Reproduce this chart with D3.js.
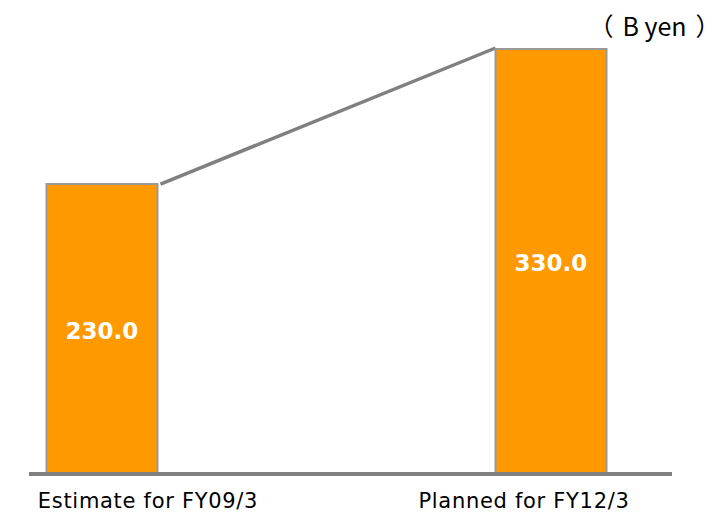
<!DOCTYPE html>
<html>
<head>
<meta charset="utf-8">
<script src="https://d3js.org/d3.v7.min.js"></script>
<style>
  body { margin: 0; background: #fff; }
</style>
</head>
<body>
<svg id="chart" width="727" height="518"></svg>
<script>
var categories = ["Estimate for FY09/3", "Planned for FY12/3"];
var values = [230.0, 330.0];
var unitParts = ["（", "B yen", "）"];

var svg = d3.select("#chart");

var x = d3.scalePoint().domain(categories).range([102, 551]);
var xLabel = d3.scalePoint().domain(categories).range([148, 524]);
var xUnit = d3.scalePoint().domain(unitParts).range([601, 708]);
var y = d3.scaleLinear().domain([16, 330]).range([473, 49]);
var barW = 111;

// connecting line from top-right of first bar to top-left of second
svg.append("line")
    .attr("x1", x(categories[0]) + barW / 2 + 3)
    .attr("y1", y(values[0]))
    .attr("x2", x(categories[1]) - barW / 2)
    .attr("y2", y(values[1]) - 1)
    .attr("stroke", "#808080")
    .attr("stroke-width", 3.5);

svg.selectAll("rect.bar")
    .data(values)
    .enter().append("rect")
    .attr("class", "bar")
    .attr("x", function(d, i) { return x(categories[i]) - barW / 2; })
    .attr("y", function(d) { return y(d); })
    .attr("width", barW)
    .attr("height", function(d) { return y(16) - y(d); })
    .attr("fill", "#FF9900")
    .attr("stroke", "#999999")
    .attr("stroke-width", 2);

svg.selectAll("text.val")
    .data(values)
    .enter().append("text")
    .attr("class", "val")
    .attr("x", function(d, i) { return x(categories[i]); })
    .attr("y", function(d) { return (y(d) + y(16)) / 2 + 10; })
    .attr("text-anchor", "middle")
    .style("font", "bold 23px 'DejaVu Sans', Verdana, sans-serif")
    .attr("fill", "#fff")
    .text(function(d) { return d.toFixed(1); });

// baseline
svg.append("line")
    .attr("x1", 29).attr("x2", 672)
    .attr("y1", 474).attr("y2", 474)
    .attr("stroke", "#808080")
    .attr("stroke-width", 4);

svg.selectAll("text.cat")
    .data(categories)
    .enter().append("text")
    .attr("class", "cat")
    .attr("x", function(d) { return xLabel(d); })
    .attr("y", 508)
    .attr("text-anchor", "middle")
    .style("font", "21px 'DejaVu Sans', Verdana, sans-serif")
    .style("letter-spacing", "0.7px")
    .attr("fill", "#000")
    .text(function(d) { return d; });

// unit label, each part placed on its own so the wide brackets sit right
var unit = svg.append("text")
    .attr("y", 36)
    .attr("text-anchor", "middle")
    .style("font", "25px 'Noto Sans CJK JP', 'DejaVu Sans', sans-serif")
    .attr("fill", "#000");
unit.selectAll("tspan")
    .data(unitParts)
    .enter().append("tspan")
    .attr("x", function(d) { return xUnit(d); })
    .text(function(d) { return d; });
</script>
</body>
</html>
